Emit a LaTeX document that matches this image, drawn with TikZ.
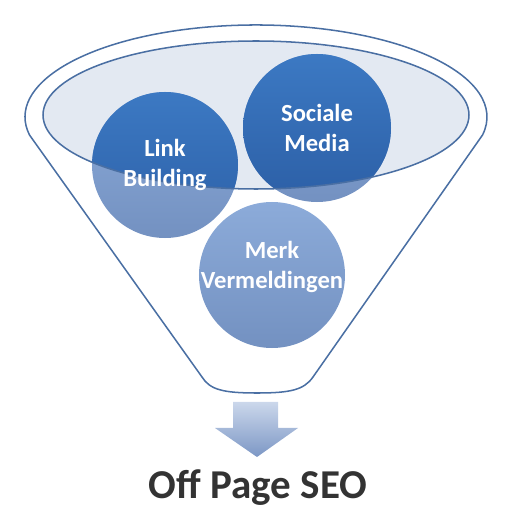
\documentclass[tikz,border=0pt]{standalone}
\usepackage{fontspec}
\setmainfont{Carlito}
\usetikzlibrary{positioning}

\definecolor{rimblue}{HTML}{4A6FA3}
\definecolor{bowlfill}{HTML}{E3E9F2}
\definecolor{deepblue}{HTML}{3C79C3}
\definecolor{deepblue2}{HTML}{2C5FA6}
\definecolor{paleblue}{HTML}{8CABD9}
\definecolor{paleblue2}{HTML}{7391C1}
\definecolor{arrowtop}{HTML}{CBD7EB}
\definecolor{arrowbot}{HTML}{7C97C5}
\definecolor{titlegray}{HTML}{333333}

\tikzset{
  rim/.style={draw=rimblue, line width=1.3pt},
  bubble/.style={circle, inner sep=0pt, minimum size=#1, top color=paleblue, bottom color=paleblue2},
  bubbletext/.style={text=white, font=\bfseries\fontsize{21}{25}\selectfont, align=center},
  title/.style={text=titlegray, font=\bfseries\fontsize{35}{40}\selectfont, anchor=base}
}

\begin{document}
\begin{tikzpicture}[x=0.03cm, y=0.03cm]
  \useasboundingbox (0,0) rectangle (513,525);

  % funnel
  \draw[rim] (29.5,390) arc[start angle=191.3, end angle=-11.3, x radius=231, y radius=92]
    -- (313,148) .. controls (304,135) and (290,132) .. (257,132)
    .. controls (224,132) and (210,135) .. (202,148) -- cycle;
  \fill[bowlfill] (256,410) ellipse [x radius=213, y radius=74];

  % bubbles
  \node[bubble=4.38cm] (lb) at (165,360) {};
  \node[bubble=4.44cm] (sm) at (317,397) {};
  \node[bubble=4.38cm] (mv) at (272,250) {};

  \begin{scope}
    \clip (256,410) ellipse [x radius=213, y radius=74];
    \shade[top color=deepblue, bottom color=deepblue2] (lb.center) circle [radius=73];
    \shade[top color=deepblue, bottom color=deepblue2] (sm.center) circle [radius=74];
  \end{scope}
  \draw[rim] (256,410) ellipse [x radius=213, y radius=74];

  \node[bubbletext] (lbtext) at (lb) {Link\\Building};
  \node[bubbletext] (smtext) at (sm) {Sociale\\Media};
  \node[bubbletext, yshift=2.4mm] (mvtext) at (mv) {Merk\\Vermeldingen};

  % arrow
  \coordinate (tip) at (257,68);
  \shade[top color=arrowtop, bottom color=arrowbot]
    (233,123) -- (278,123) -- (278,97) -- (298,97) -- (tip) -- (215,97) -- (233,97) -- cycle;

  \node[title] (seo) at (258,26) {Off Page SEO};
\end{tikzpicture}
\end{document}
